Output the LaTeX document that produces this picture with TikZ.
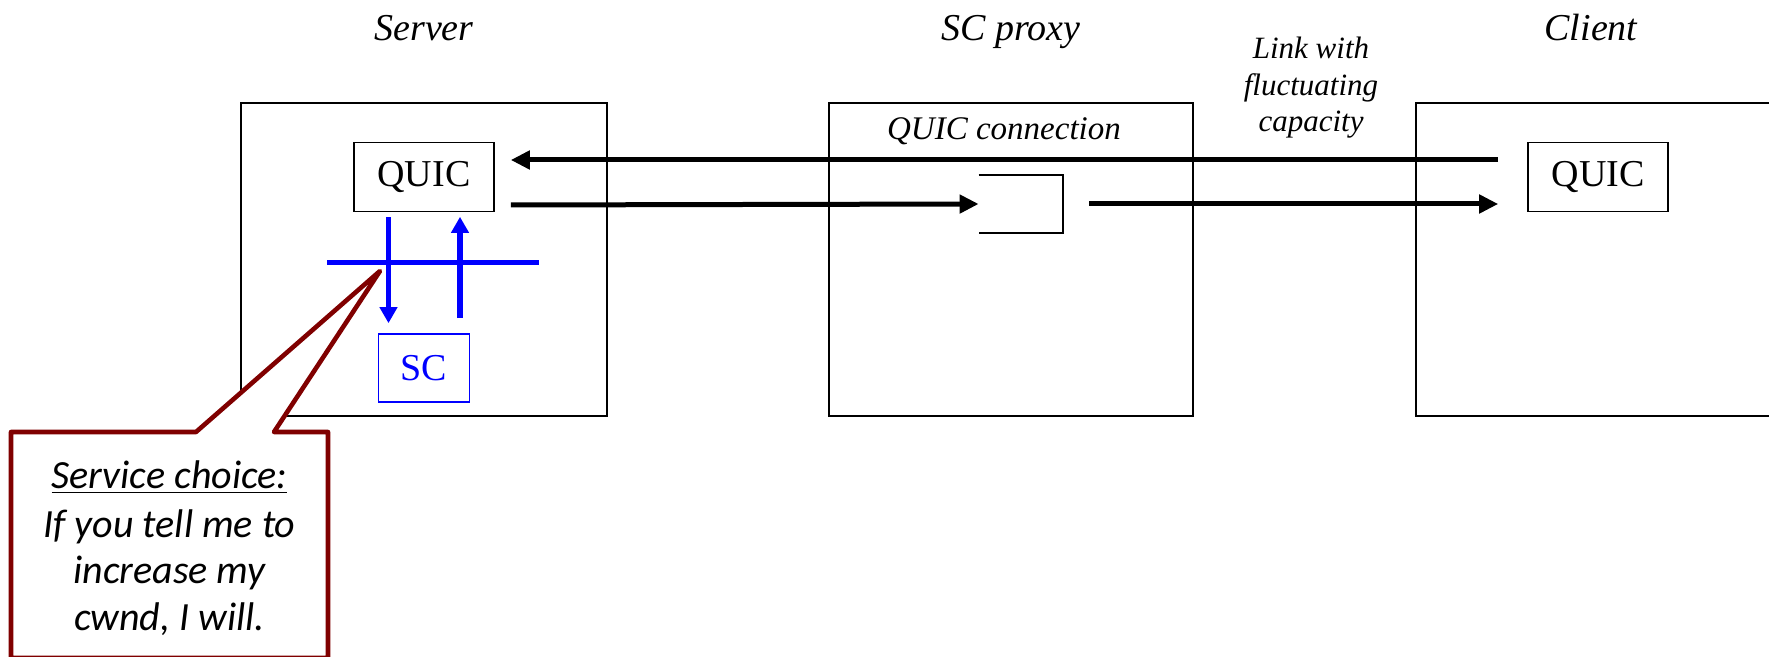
\documentclass[tikz,border=0pt]{standalone}
\usepackage{fontspec}
\setmainfont{Liberation Serif}
\newfontfamily\calloutfont{Carlito}
\usetikzlibrary{arrows.meta,calc}
\definecolor{callred}{RGB}{128,0,0}
\definecolor{scblue}{RGB}{0,0,255}

\begin{document}
\begin{tikzpicture}[x=0.5pt,y=-0.5pt,
  hostbox/.style={draw, line width=1pt, minimum width=183pt, minimum height=156.5pt, inner sep=0pt},
  quicbox/.style={draw, line width=0.8pt, minimum width=70pt, minimum height=34.5pt, inner sep=0pt,
                  font=\fontsize{19}{22}\selectfont},
  title/.style={anchor=base, inner sep=0pt, font=\fontsize{19}{22}\selectfont\itshape},
  smalltitle/.style={anchor=base, inner sep=0pt, font=\fontsize{16}{18}\selectfont\itshape},
  bigarrow/.style={line width=2.5pt, -{Triangle[length=9.5pt,width=9pt]}},
  bluearrow/.style={scblue, line width=2.6pt, -{Triangle[length=8pt,width=8.5pt]}},
  calltext/.style={anchor=base, inner sep=0pt, font=\calloutfont\fontsize{20}{23}\selectfont\itshape}
]
\useasboundingbox (0,0) rectangle (1769,657);

% hosts
\node[hostbox] (server) at (424,259.5) {};
\node[hostbox, minimum width=182pt] (proxy) at (1011,259.5) {};
\node[hostbox] (client) at (1599,259.5) {};

\node[title] (serverlbl) at (424,41) {Server};
\node[title] (proxylbl) at (1011,41) {SC proxy};
\node[title] (clientlbl) at (1591,41) {Client};

% QUIC endpoints
\node[quicbox] (squic) at (424,177) {QUIC};
\node[quicbox] (cquic) at (1598,177) {QUIC};

% service-choice module
\node[quicbox, draw=scblue, text=scblue, minimum width=45.5pt, minimum height=34pt] (sc) at (424,368) {SC};

% proxy queue
\node[smalltitle, font=\fontsize{16.5}{18}\selectfont\itshape] (conn) at (1004,140) {QUIC connection};
\node[minimum width=42pt, minimum height=29pt, inner sep=0pt] (queue) at (1021,204) {};
\draw[line width=1pt] (queue.north west) -- (queue.north east) -- (queue.south east) -- (queue.south west);

% link label
\node[smalltitle, font=\fontsize{15.5}{18}\selectfont\itshape] (link1) at (1311,59) {Link with};
\node[smalltitle, font=\fontsize{15.5}{18}\selectfont\itshape] (link2) at (1311,96) {fluctuating};
\node[smalltitle, font=\fontsize{15.5}{18}\selectfont\itshape] (link3) at (1311,132) {capacity};

% data path
\draw[bigarrow] ($(cquic.west)+(-29,-17)$) -- ($(squic.east)+(16,-17)$);
\draw[bigarrow] ($(squic.east)+(16,28)$) -- (queue.west);
\draw[bigarrow] ($(queue.east)+(26,0)$) -- ($(cquic.west)+(-29,27)$);

% API between QUIC and SC
\coordinate (barL) at (327,263);
\coordinate (barR) at (539,263);
\draw[scblue, line width=2.5pt] (barL) -- (barR);
\draw[bluearrow] ($(squic.south)+(-35.5,5)$) -- ($(sc.north)+(-35.5,-10)$);
\draw[bluearrow] ($(sc.north)+(36,-15)$) -- ($(squic.south)+(36,4.5)$);

% callout
\coordinate (tip) at (380,271);
\draw[callred, line width=2.3pt, fill=white, line join=round]
  (11,432) -- (196,432) -- (tip) -- (274,432) -- (328,432) -- (328,658) -- (11,658) -- cycle;
\node[calltext] (c1) at (169.5,489) {\underline{Service choice:}};
\node[calltext] (c2) at (169.5,538) {If you tell me to};
\node[calltext] (c3) at (169.5,584) {increase my};
\node[calltext] (c4) at (169.5,631) {cwnd, I will.};
\end{tikzpicture}
\end{document}
